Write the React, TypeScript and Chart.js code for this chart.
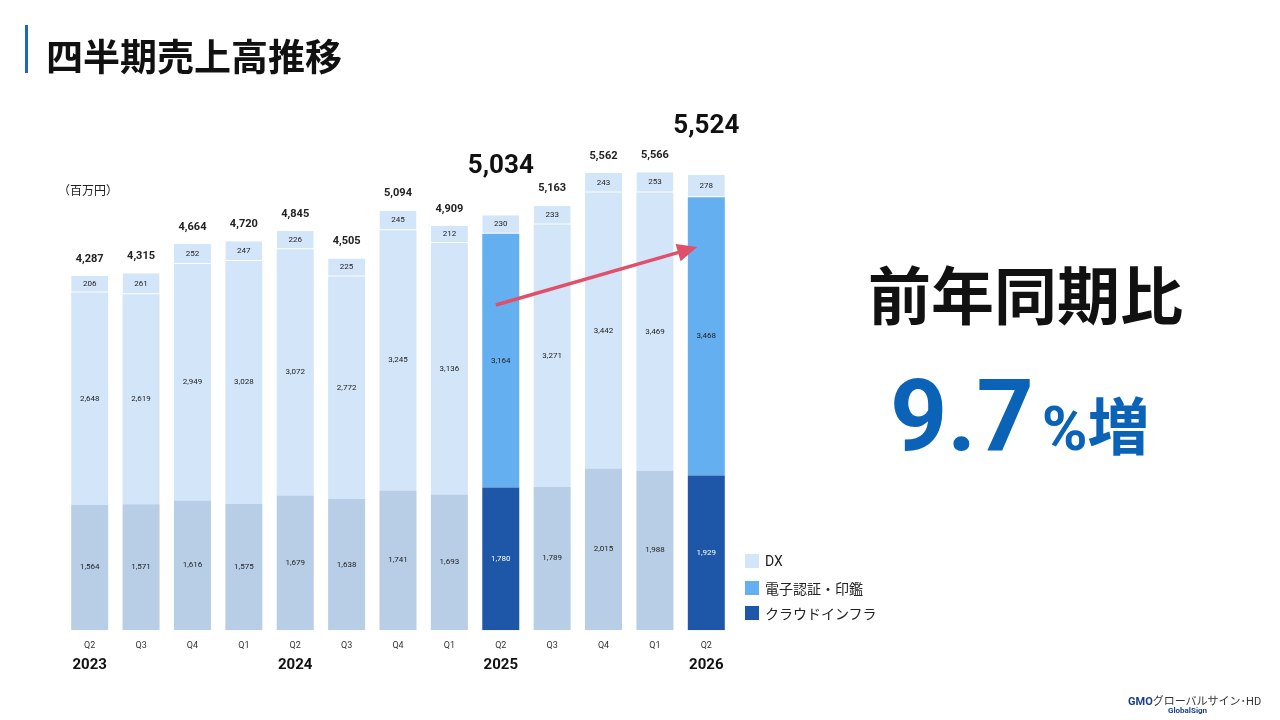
import React, { useEffect, useRef } from "react";
import { Chart, registerables } from "chart.js";
Chart.register(...registerables);

const quarters = ["Q2","Q3","Q4","Q1","Q2","Q3","Q4","Q1","Q2","Q3","Q4","Q1","Q2"];
const years = [{ i: 0, t: "2023" }, { i: 4, t: "2024" }, { i: 8, t: "2025" }, { i: 12, t: "2026" }];
const cloud = [1564,1571,1616,1575,1679,1638,1741,1693,1780,1789,2015,1988,1929];
const cert = [2648,2619,2949,3028,3072,2772,3245,3136,3164,3271,3442,3469,3468];
const dx = [206,261,252,247,226,225,245,212,230,233,243,253,278];
const totals = [4287,4315,4664,4720,4845,4505,5094,4909,5034,5163,5562,5566,5524];
const highlight = [8, 12];

const fmt = (v: number) => v.toLocaleString("en-US");
const FONT = "Roboto, 'Noto Sans CJK JP', sans-serif";

export default function App() {
  const ref = useRef<HTMLCanvasElement>(null);
  useEffect(() => {
    const hl = (i: number) => highlight.includes(i);
    const plugin = {
      id: "labels",
      afterDatasetsDraw(chart: any) {
        const ctx = chart.ctx;
        ctx.save();
        ctx.textAlign = "center";
        ctx.textBaseline = "middle";
        chart.data.datasets.forEach((ds: any, d: number) => {
          const meta = chart.getDatasetMeta(d);
          meta.data.forEach((bar: any, i: number) => {
            const y = (bar.y + bar.base) / 2;
            ctx.font = `8px ${FONT}`;
            ctx.fillStyle = hl(i) && d === 0 ? "#ffffff" : "#222";
            ctx.fillText(fmt(ds.data[i]), bar.x, y);
          });
        });
        const top = chart.getDatasetMeta(2);
        top.data.forEach((bar: any, i: number) => {
          if (hl(i)) {
            ctx.font = `bold 26px ${FONT}`;
            ctx.fillStyle = "#111";
            ctx.fillText(fmt(totals[i]), bar.x, bar.y - 49);
          } else {
            ctx.font = `bold 11px ${FONT}`;
            ctx.fillStyle = "#222";
            ctx.fillText(fmt(totals[i]), bar.x, bar.y - 17);
          }
        });
        const xs = chart.scales.x;
        ctx.font = `bold 15px ${FONT}`;
        ctx.fillStyle = "#111";
        years.forEach((y) => ctx.fillText(y.t, xs.getPixelForValue(y.i), 665));
        const m1 = chart.getDatasetMeta(1);
        const a = m1.data[highlight[0]], b = m1.data[highlight[1]];
        const x1 = a.x - 5, y1 = 305, x2 = b.x - 9, y2 = 247;
        ctx.strokeStyle = "#e0506a";
        ctx.fillStyle = "#e0506a";
        ctx.lineWidth = 3.5;
        const ang = Math.atan2(y2 - y1, x2 - x1);
        ctx.beginPath();
        ctx.moveTo(x1, y1);
        ctx.lineTo(x2 - 14 * Math.cos(ang), y2 - 14 * Math.sin(ang));
        ctx.stroke();
        ctx.beginPath();
        ctx.moveTo(x2, y2);
        ctx.lineTo(x2 - 20 * Math.cos(ang) + 9 * Math.sin(ang), y2 - 20 * Math.sin(ang) - 9 * Math.cos(ang));
        ctx.lineTo(x2 - 20 * Math.cos(ang) - 9 * Math.sin(ang), y2 - 20 * Math.sin(ang) + 9 * Math.cos(ang));
        ctx.closePath();
        ctx.fill();
        ctx.restore();
      },
    };
    const chart = new Chart(ref.current!, {
      type: "bar",
      data: {
        labels: quarters,
        datasets: [
          { label: "クラウドインフラ", data: cloud, backgroundColor: cloud.map((_, i) => (hl(i) ? "#1f57a8" : "#b8cee7")) },
          { label: "電子認証・印鑑", data: cert, backgroundColor: cert.map((_, i) => (hl(i) ? "#64aff0" : "#d3e6f9")) },
          { label: "DX", data: dx, backgroundColor: "#d3e6f9", borderColor: "#ffffff", borderWidth: { bottom: 1 } as any, borderSkipped: false as any },
        ],
      },
      options: {
        animation: false,
        responsive: false,
        layout: { padding: { left: 64, right: 548, top: 149, bottom: 67 } },
        plugins: { legend: { display: false }, tooltip: { enabled: false } },
        scales: {
          x: { stacked: true, grid: { display: false }, border: { display: false }, ticks: { font: { size: 9, family: FONT }, color: "#333", padding: 2 }, categoryPercentage: 1, barPercentage: 0.71 } as any,
          y: { stacked: true, display: false, min: 0, max: 6000 },
        },
      },
      plugins: [plugin],
    });
    return () => chart.destroy();
  }, []);
  const legend = [
    { c: "#d3e6f9", t: "DX" },
    { c: "#64aff0", t: "電子認証・印鑑" },
    { c: "#1f57a8", t: "クラウドインフラ" },
  ];
  return (
    <div style={{ position: "fixed", inset: 0, width: 1280, height: 720, background: "#fff", fontFamily: FONT, overflow: "hidden" }}>
      <canvas ref={ref} width={1280} height={720} style={{ position: "absolute", left: 0, top: 0 }} />
      <div style={{ position: "absolute", left: 25, top: 25, width: 3, height: 48, background: "#1f67b8" }} />
      <div style={{ position: "absolute", left: 46, top: 28, fontSize: 37, fontWeight: 700, color: "#111" }}>四半期売上高推移</div>
      <div style={{ position: "absolute", left: 58, top: 181, fontSize: 12, color: "#222" }}>（百万円）</div>
      <div style={{ position: "absolute", left: 868, top: 246, fontSize: 63, fontWeight: 700, color: "#111", whiteSpace: "nowrap" }}>前年同期比</div>
      <div style={{ position: "absolute", left: 890, top: 357, color: "#0b63b8", fontWeight: 700, whiteSpace: "nowrap" }}>
        <span style={{ fontSize: 100 }}>9.7</span>
        <span style={{ fontSize: 62, marginLeft: 8 }}>%増</span>
      </div>
      {legend.map((l, i) => (
        <div key={i} style={{ position: "absolute", left: 745, top: 553 + i * 25, display: "flex", alignItems: "center", fontSize: 14, color: "#222" }}>
          <div style={{ width: 14, height: 14, background: l.c, marginRight: 6 }} />
          {l.t}
        </div>
      ))}
      <div style={{ position: "absolute", left: 1128, top: 692, fontSize: 11, color: "#1a3f8f", fontWeight: 700 }}>GMO<span style={{ fontWeight: 400, color: "#333" }}>グローバルサイン･HD</span></div>
      <div style={{ position: "absolute", left: 1168, top: 706, fontSize: 8, color: "#1a3f8f", fontWeight: 700 }}>GlobalSign</div>
    </div>
  );
}
